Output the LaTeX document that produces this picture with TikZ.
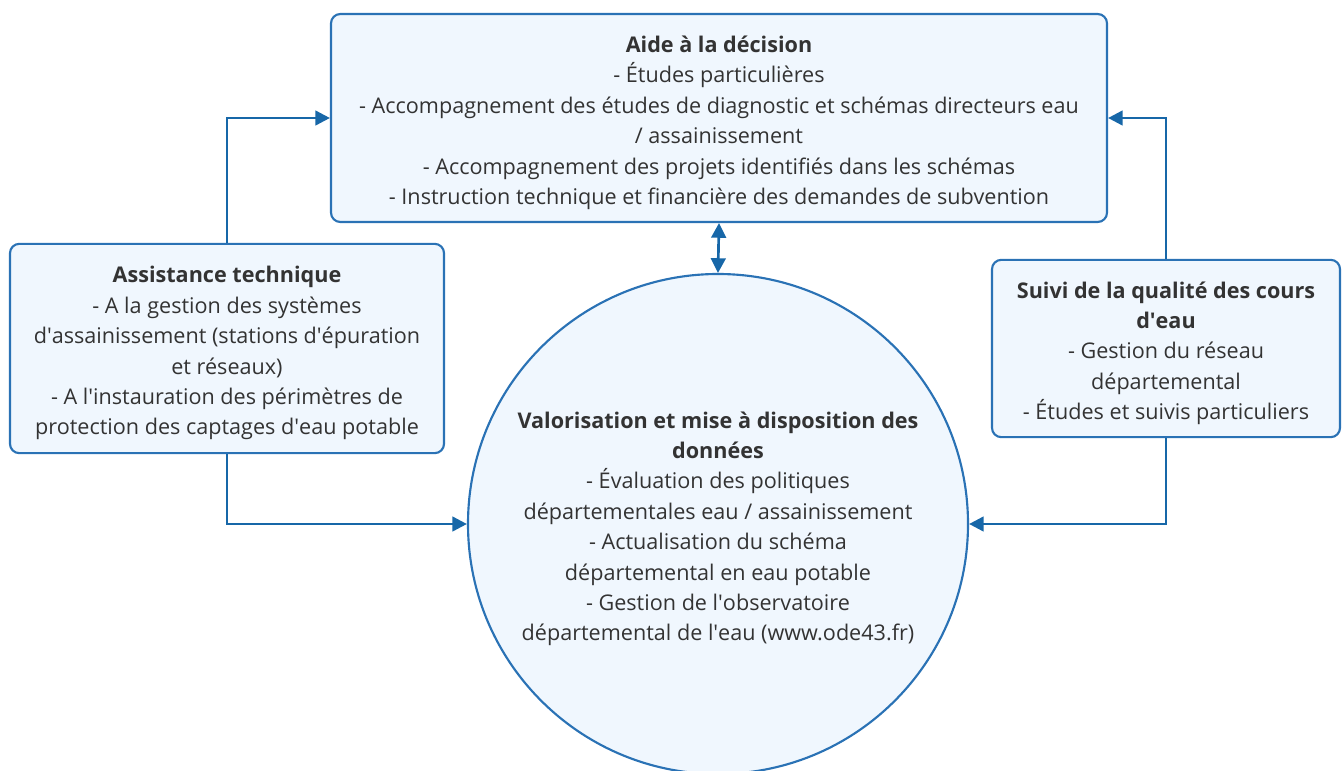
\documentclass[tikz,border=0pt]{standalone}
\usepackage{fontspec}
\setmainfont{Open Sans}
\usetikzlibrary{arrows.meta}
\definecolor{bordblue}{HTML}{2A72B5}
\definecolor{fillblue}{HTML}{F0F7FE}
\definecolor{linkblue}{HTML}{1767A8}
\definecolor{txtgray}{HTML}{333333}
\newcommand{\apos}{\textquotesingle}
\newcommand{\heading}[1]{\rule{0pt}{19.5pt}\textbf{#1}}

\tikzset{
  box/.style={draw=bordblue,fill=fillblue,line width=1.6pt,rounded corners=7pt,
    align=center,inner sep=0pt,text=txtgray,
    font=\fontsize{16.2}{22.8}\selectfont},
  link/.style={draw=linkblue,line width=2pt,-{Triangle[length=11pt,width=11pt]}},
}

\begin{document}
\begin{tikzpicture}[x=0.75pt,y=-0.75pt]
\useasboundingbox (0,0) rectangle (1343,771);
\clip (0,0) rectangle (1343,771);
\node[box,minimum width=582pt,minimum height=156pt] (aide) at (719,118)
  {\heading{Aide à la décision}\\
   - Études particulières\\
   - Accompagnement des études de diagnostic et schémas directeurs eau\\
   / assainissement\\
   - Accompagnement des projets identifiés dans les schémas\\
   - Instruction technique et financière des demandes de subvention};
\node[box,minimum width=325.5pt,minimum height=157pt] (assist) at (227,348.5)
  {\heading{Assistance technique}\\
   - A la gestion des systèmes\\
   d\apos assainissement (stations d\apos épuration\\
   et réseaux)\\
   - A l\apos instauration des périmètres de\\
   protection des captages d\apos eau potable};
\node[box,minimum width=261pt,minimum height=133pt] (suivi) at (1166,348.5)
  {\heading{Suivi de la qualité des cours}\\
   \textbf{d\apos eau}\\
   - Gestion du réseau\\
   départemental\\
   - Études et suivis particuliers};
\node[box,circle,minimum size=375pt] (valo) at (718,524)
  {\heading{Valorisation et mise à disposition des}\\
   \textbf{données}\\
   - Évaluation des politiques\\
   départementales eau / assainissement\\
   - Actualisation du schéma\\
   départemental en eau potable\\
   - Gestion de l\apos observatoire\\
   départemental de l\apos eau (www.ode43.fr)};
% connecteurs
\draw[link] (assist.north) |- (aide.west);
\draw[link] (assist.south) |- (valo.west);
\draw[link] (suivi.north) |- (aide.east);
\draw[link] (suivi.south) |- (valo.east);
\draw[link,{Triangle[length=11pt,width=11pt]}-{Triangle[length=11pt,width=11pt]}] (aide.south) -- (valo.north);
\end{tikzpicture}
\end{document}
